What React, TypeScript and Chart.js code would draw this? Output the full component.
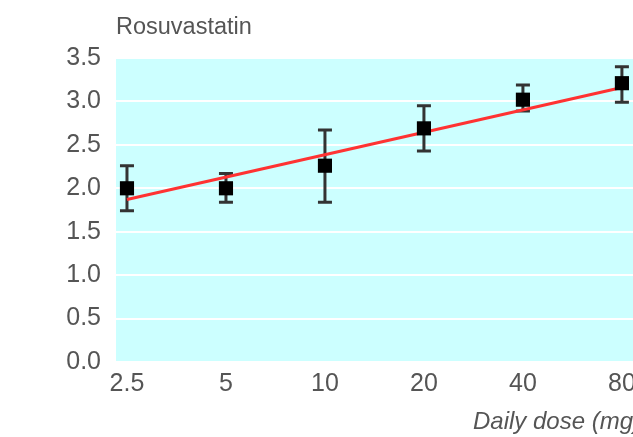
import React, { useEffect, useRef } from "react";
import { Chart, registerables } from "chart.js";

Chart.register(...registerables);

const doses = [2.5, 5, 10, 20, 40, 80];
const means = [2.0, 2.0, 2.26, 2.69, 3.02, 3.21];
const upper = [2.26, 2.17, 2.67, 2.95, 3.19, 3.4];
const lower = [1.74, 1.84, 1.84, 2.43, 2.89, 2.99];
const fitDoses = [2.5, 80];
const fitValues = [1.87, 3.16];
const yTicks = [0, 0.5, 1.0, 1.5, 2.0, 2.5, 3.0, 3.5];
const chartTitle = "Rosuvastatin";
const xTitle = "Daily dose (mg)";

const FONT = "'Liberation Sans', Arial, sans-serif";

const bgPlugin = {
  id: "bgPlugin",
  beforeDraw(chart: any) {
    const { ctx, chartArea } = chart;
    ctx.save();
    ctx.fillStyle = "#ccffff";
    ctx.fillRect(chartArea.left, chartArea.top, chartArea.right - chartArea.left, chartArea.bottom - chartArea.top);
    ctx.restore();
  },
};

const errorBarPlugin = {
  id: "errorBarPlugin",
  beforeDatasetsDraw(chart: any) {
    const { ctx } = chart;
    const xs = chart.scales.x;
    const ys = chart.scales.y;
    ctx.save();
    ctx.strokeStyle = "#333333";
    ctx.lineWidth = 3;
    doses.forEach((d, i) => {
      const x = xs.getPixelForValue(d);
      const yt = ys.getPixelForValue(upper[i]);
      const yb = ys.getPixelForValue(lower[i]);
      ctx.beginPath();
      ctx.moveTo(x, yt);
      ctx.lineTo(x, yb);
      ctx.moveTo(x - 7, yt);
      ctx.lineTo(x + 7, yt);
      ctx.moveTo(x - 7, yb);
      ctx.lineTo(x + 7, yb);
      ctx.stroke();
    });
    ctx.restore();
  },
};

const titlesPlugin = {
  id: "titlesPlugin",
  afterDraw(chart: any) {
    const { ctx, chartArea } = chart;
    ctx.save();
    ctx.fillStyle = "#555555";
    ctx.textBaseline = "alphabetic";
    ctx.textAlign = "left";
    ctx.font = `23.5px ${FONT}`;
    ctx.fillText(chartTitle, chartArea.left, 34);
    ctx.font = `italic 24px ${FONT}`;
    ctx.fillText(xTitle, 473, 429);
    ctx.restore();
  },
};

export default function App() {
  const ref = useRef<HTMLCanvasElement | null>(null);
  useEffect(() => {
    if (!ref.current) return;
    const chart = new Chart(ref.current, {
      type: "scatter",
      data: {
        datasets: [
          {
            type: "scatter",
            data: doses.map((d, i) => ({ x: d, y: means[i] })),
            pointStyle: "rect",
            pointRadius: 10,
            backgroundColor: "#000000",
            borderColor: "#000000",
            borderWidth: 0,
            order: 1,
          },
          {
            type: "line",
            data: fitDoses.map((d, i) => ({ x: d, y: fitValues[i] })),
            borderColor: "#ff3333",
            borderWidth: 3,
            pointRadius: 0,
            fill: false,
            order: 2,
          } as any,
        ],
      },
      options: {
        responsive: false,
        animation: false,
        layout: { padding: { top: 58, left: 0, right: 80, bottom: 0 } },
        plugins: { legend: { display: false }, tooltip: { enabled: false }, title: { display: false } },
        scales: {
          x: {
            type: "logarithmic",
            min: 2.315,
            max: 90.8,
            afterBuildTicks: (axis: any) => {
              axis.ticks = doses.map((v) => ({ value: v }));
            },
            afterFit: (axis: any) => {
              axis.height = 75;
            },
            grid: { display: false, drawTicks: false },
            border: { display: false },
            ticks: {
              autoSkip: false,
              maxRotation: 0,
              padding: 7,
              color: "#555555",
              font: { family: FONT, size: 25 },
              callback: (v: any) => String(v),
            },
          },
          y: {
            type: "linear",
            min: 0,
            max: 3.5,
            afterBuildTicks: (axis: any) => {
              axis.ticks = yTicks.map((v) => ({ value: v }));
            },
            afterFit: (axis: any) => {
              axis.width = 116;
            },
            grid: { color: "#ffffff", lineWidth: 2, drawTicks: false },
            border: { display: false },
            ticks: {
              padding: 15,
              color: "#555555",
              font: { family: FONT, size: 25 },
              callback: (v: any) => Number(v).toFixed(1),
            },
          },
        },
      },
      plugins: [bgPlugin, errorBarPlugin, titlesPlugin],
    });
    return () => chart.destroy();
  }, []);
  return (
    <div style={{ position: "fixed", left: 0, top: 0, width: 633, height: 437, overflow: "hidden", background: "#fff" }}>
      <canvas ref={ref} width={720} height={437} style={{ display: "block", width: 720, height: 437 }} />
    </div>
  );
}
